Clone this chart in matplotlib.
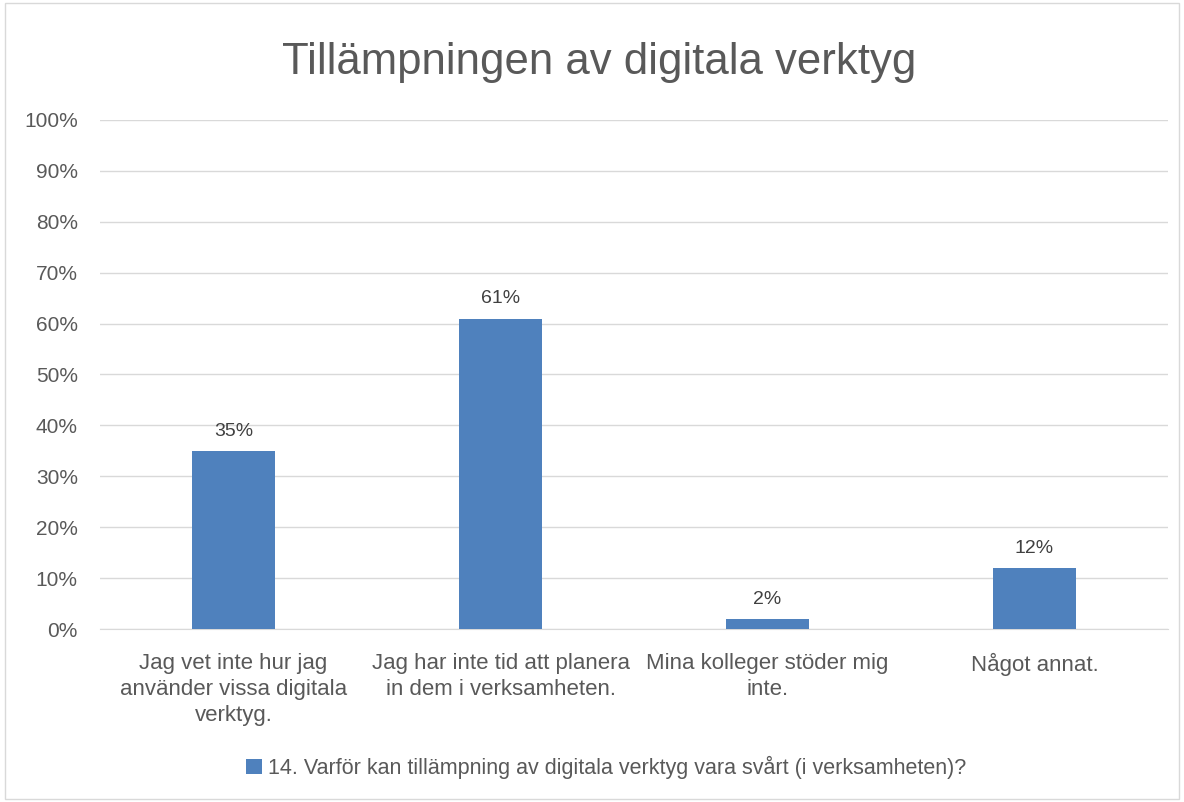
import matplotlib.pyplot as plt
from matplotlib.patches import Rectangle
from matplotlib.ticker import PercentFormatter

categories = ['Jag vet inte hur jag\nanvänder vissa digitala\nverktyg.',
              'Jag har inte tid att planera\nin dem i verksamheten.',
              'Mina kolleger stöder mig\ninte.',
              'Något annat.']
values = [35, 61, 2, 12]
series_name = '14. Varför kan tillämpning av digitala verktyg vara svårt (i verksamheten)?'
title = 'Tillämpningen av digitala verktyg'

bar_color = '#4F81BD'
text_color = '#595959'
plt.rcParams['font.family'] = ['Liberation Sans', 'DejaVu Sans']

fig = plt.figure(figsize=(11.84, 8.02), dpi=100)
fig.patches.append(Rectangle((0.004, 0.004), 0.992, 0.992, transform=fig.transFigure,
                             fill=False, edgecolor='#D9D9D9', linewidth=1))
ax = fig.add_axes([0.0845, 0.2157, 0.902, 0.6347])

x = range(len(categories))
bars = ax.bar(x, values, width=0.31, color=bar_color, label=series_name, zorder=3)
for b, v in zip(bars, values):
    ax.text(b.get_x() + b.get_width() / 2, v + 2.2, f'{v}%', ha='center', va='bottom',
            fontsize=14, color='#404040')

ax.set_xlim(-0.5, len(categories) - 0.5)
ax.set_ylim(0, 100)
ax.set_yticks(range(0, 101, 10))
ax.yaxis.set_major_formatter(PercentFormatter(decimals=0))
ax.set_xticks(list(x))
ax.set_xticklabels(categories, linespacing=1.32)
ax.grid(axis='y', color='#D9D9D9', linewidth=1, zorder=0)
for s in ['top', 'right', 'left']:
    ax.spines[s].set_visible(False)
ax.spines['bottom'].set_color('#D9D9D9')
ax.tick_params(axis='both', length=0, colors=text_color)
ax.tick_params(axis='x', pad=17, labelsize=16)
ax.tick_params(axis='y', pad=16, labelsize=15)

fig.text(0.506, 0.922, title, ha='center', va='center', fontsize=31.5, color=text_color)
fig.legend(handles=[bars], labels=[series_name], loc='center', bbox_to_anchor=(0.512, 0.043),
           frameon=False, fontsize=15.5, handlelength=0.75, handleheight=0.75,
           handletextpad=0.3, labelcolor=text_color)

fig.savefig('out.png', dpi=100)
